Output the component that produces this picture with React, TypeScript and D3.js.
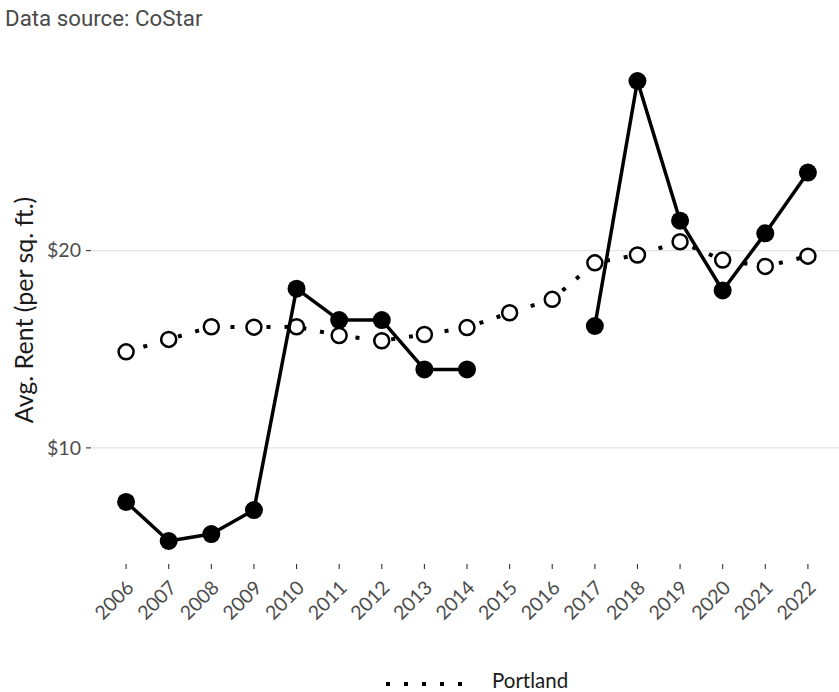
import React from "react";
import * as d3 from "d3";

const years = [2006, 2007, 2008, 2009, 2010, 2011, 2012, 2013, 2014, 2015, 2016, 2017, 2018, 2019, 2020, 2021, 2022];
const portland = [14.87, 15.5, 16.14, 16.12, 16.14, 15.7, 15.43, 15.75, 16.1, 16.85, 17.53, 19.38, 19.78, 20.45, 19.52, 19.2, 19.72];
const submarket: (number | null)[] = [7.26, 5.28, 5.63, 6.85, 18.07, 16.48, 16.48, 13.98, 13.98, null, null, 16.18, 28.6, 21.52, 17.98, 20.88, 23.96];
const yTicks = [10, 20];
const title = "Data source: CoStar";
const yLabel = "Avg. Rent (per sq. ft.)";
const legendLabel = "Portland";

const W = 839;
const H = 692;
const M = { left: 92, right: W + 3, top: 58, bottom: 564 };

export default function App() {
  const x = d3.scaleLinear().domain([2005.2, 2022.8]).range([M.left, M.right]);
  const allVals = [...portland, ...(submarket.filter((v) => v !== null) as number[])];
  const lo = d3.min(allVals)!;
  const hi = d3.max(allVals)!;
  const pad = (hi - lo) * 0.05;
  const y = d3.scaleLinear().domain([lo - pad, hi + pad]).range([M.bottom, M.top]);

  const line = d3
    .line<number | null>()
    .defined((d) => d !== null)
    .x((_, i) => x(years[i]))
    .y((d) => y(d as number));

  const axisFont = "Lato, 'Noto Sans', sans-serif";

  return (
    <svg width={W} height={H} style={{ position: "absolute", left: 0, top: 0, background: "#fff" }}>
      <text x={5} y={26} fontFamily="Roboto, 'Liberation Sans', sans-serif" fontSize={22.3} fill="#4a4a4a">
        {title}
      </text>
      {yTicks.map((t) => (
        <g key={t}>
          <line x1={M.left} x2={W} y1={y(t)} y2={y(t)} stroke="#e3e3e3" strokeWidth={1.1} />
          <line x1={86} x2={91} y1={y(t)} y2={y(t)} stroke="#333" strokeWidth={1.1} />
          <text x={81} y={y(t)} dy="0.35em" textAnchor="end" fontFamily={axisFont} fontSize={19.5} fill="#4d4d4d">
            {`$${t}`}
          </text>
        </g>
      ))}
      {years.map((yr) => (
        <g key={yr}>
          <line x1={x(yr)} x2={x(yr)} y1={564} y2={569} stroke="#333" strokeWidth={1.1} />
          <text
            transform={`translate(${x(yr) + 9},${589}) rotate(-45)`}
            textAnchor="end"
            fontFamily={axisFont}
            fontSize={19.5}
            fill="#4d4d4d"
          >
            {yr}
          </text>
        </g>
      ))}
      <text
        transform={`translate(${33},${310}) rotate(-90)`}
        textAnchor="middle"
        fontFamily={axisFont}
        fontSize={25}
        fill="#1a1a1a"
      >
        {yLabel}
      </text>
      {/* Portland series */}
      <path d={line(portland) || ""} fill="none" stroke="#000" strokeWidth={4} strokeDasharray="4 14" />
      {portland.map((v, i) => (
        <circle key={i} cx={x(years[i])} cy={y(v)} r={7.5} fill="#fff" stroke="#000" strokeWidth={2.5} />
      ))}
      {/* Submarket series */}
      <path d={line(submarket) || ""} fill="none" stroke="#000" strokeWidth={3.5} strokeLinejoin="round" />
      {submarket.map((v, i) =>
        v === null ? null : <circle key={i} cx={x(years[i])} cy={y(v)} r={9} fill="#000" />
      )}
      {/* Legend */}
      <line x1={386} x2={468} y1={684} y2={684} stroke="#000" strokeWidth={4} strokeDasharray="4 14" />
      <text x={492} y={688} fontFamily={axisFont} fontSize={20.5} fill="#1a1a1a">
        {legendLabel}
      </text>
    </svg>
  );
}
